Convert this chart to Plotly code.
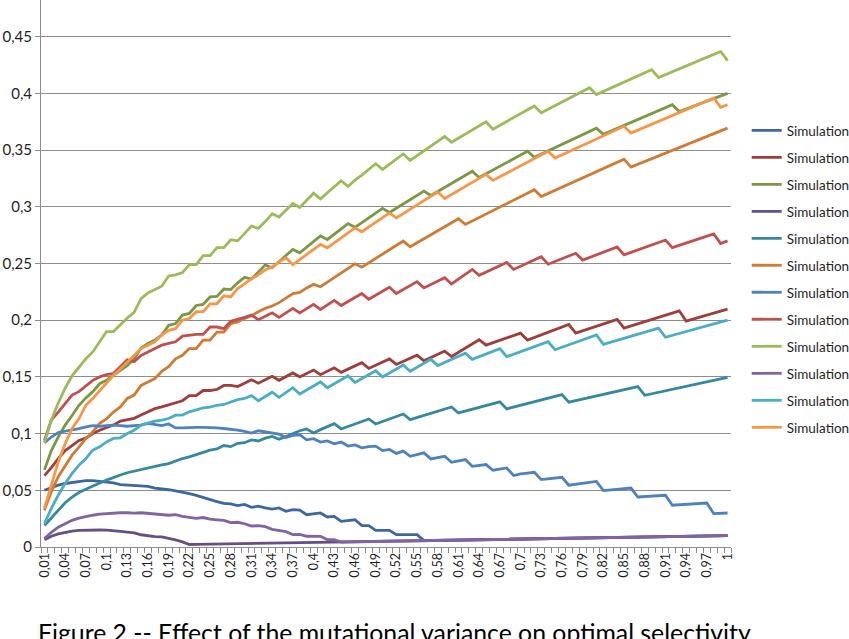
import plotly.graph_objects as go

# x categories (mutational variance)
sigma = [round(0.01 * k, 2) for k in range(1, 101)]
tick_vals = sigma[::3]
tick_text = [f"{v:g}".replace(".", ",") for v in tick_vals]

names = ["Simulation %d" % k for k in range(1, 13)]
colors = ["#3C689F", "#9E3E3B", "#7B9846", "#654F85", "#35899F", "#D07B33",
          "#4F81BD", "#C0504D", "#9BBB59", "#8064A2", "#4BACC6", "#F79646"]

s4 = [.0065, .0095, .0115, .013, .014, .0147, .015, .015, .015, .0148,
      .0145, .0138, .0132, .0125, .0108, .0098, .0092, .009, .0078, .0062,
      .0045, .0022, .0023, .0024, .0025, .0026, .0027, .0028, .0029, .0030,
      .0031, .0032, .0033, .0034, .0035, .0036, .0037, .0038, .0039, .0040,
      .0041, .0042, .0043, .0044, .0045, .0046, .0047, .0048, .0049, .0050,
      .0051, .0052, .0053, .0054, .0055, .0056, .0057, .0058, .0059, .0060,
      .0061, .0062, .0063, .0064, .0065, .0066, .0067, .0068, .0069, .0070,
      .0071, .0072, .0073, .0074, .0075, .0076, .0077, .0078, .0079, .0080,
      .0081, .0082, .0083, .0084, .0085, .0086, .0087, .0088, .0089, .0090,
      .0091, .0092, .0093, .0094, .0095, .0096, .0097, .0098, .0099, .0100]

s1 = [.050, .0525, .0545, .056, .057, .058, .0585, .0585, .058, .0575,
      .0565, .055, .0545, .054, .0535, .0535, .052, .0515, .0505, .0495,
      .0485, .047, .0455, .0435, .042, .040, .0385, .038, .0365, .0375,
      .035, .036, .0345, .0335, .0345, .0315, .033, .0325, .0285, .0295,
      .030, .0265, .027, .0226, .0235, .024, .0188, .0188, .0147, .0147,
      .0147, .0109, .0109, .0109, .0109, .0056, .0057, .0058, .0059, .0060,
      .0061, .0062, .0063, .0064, .0065, .0066, .0067, .0068, .0069, .0070,
      .0071, .0072, .0073, .0074, .0075, .0076, .0077, .0078, .0079, .0080,
      .0081, .0082, .0083, .0084, .0085, .0086, .0087, .0088, .0089, .0090,
      .0091, .0092, .0093, .0094, .0095, .0096, .0097, .0098, .0099, .0100]

s2 = [.063, .070, .078, .085, .0895, .094, .096, .100, .103, .105,
      .1075, .111, .112, .1135, .1165, .119, .122, .1235, .1255, .1275,
      .129, .1335, .1335, .138, .138, .139, .1425, .1425, .1415, .1445,
      .1475, .1445, .1475, .1505, .147, .1505, .1535, .150, .153, .156,
      .152, .155, .158, .154, .1568, .1596, .1625, .1575, .1602, .163,
      .1658, .161, .1637, .1664, .1692, .1642, .167, .1699, .1728, .168,
      .1717, .1754, .1791, .1828, .178, .1801, .1823, .1844, .1865, .1886,
      .1825, .1848, .1871, .1893, .1916, .1939, .1962, .1886, .1906, .1926,
      .1947, .1967, .1987, .2007, .1931, .195, .1969, .1988, .2007, .2026,
      .2045, .2064, .2083, .1992, .201, .2027, .2045, .2063, .208, .2098]

s3 = [.068, .085, .097, .1075, .116, .125, .1315, .137, .144, .147,
      .1515, .156, .160, .166, .1755, .1795, .1825, .187, .1955, .197,
      .2045, .206, .213, .214, .2205, .221, .2275, .227, .233, .2378,
      .2363, .2425, .2488, .2463, .2517, .257, .2624, .2594, .2644, .2693,
      .2743, .2712, .2759, .2805, .2852, .2819, .2861, .2902, .2944, .2986,
      .295, .2988, .3025, .3063, .310, .3138, .310, .3136, .3171, .3207,
      .3243, .3278, .3314, .3259, .3292, .3325, .3358, .3391, .3424, .3457,
      .349, .3436, .3465, .3493, .3522, .3551, .3579, .3608, .3637, .3665,
      .3694, .364, .3666, .3692, .3718, .3744, .377, .3796, .3822, .3848,
      .3874, .390, .384, .3863, .3886, .3909, .3931, .3954, .3977, .400]

s5 = [.019, .026, .033, .039, .044, .048, .051, .054, .0565, .059,
      .0615, .0635, .0655, .067, .0685, .070, .0715, .0725, .0735, .076,
      .078, .0795, .0815, .0835, .0855, .0865, .0895, .0885, .0915, .092,
      .0945, .0935, .096, .0975, .095, .0975, .100, .1025, .1041, .1006,
      .1035, .1062, .1088, .1041, .1063, .1085, .1107, .1129, .1085, .1107,
      .1129, .1151, .1173, .1123, .1142, .116, .1179, .1197, .1216, .1235,
      .1182, .1199, .1215, .1231, .1248, .1264, .128, .1218, .1234, .125,
      .1266, .1281, .1297, .1313, .1328, .1344, .1277, .1291, .1304, .1318,
      .1332, .1346, .1359, .1373, .1387, .14, .1414, .1338, .1351, .1364,
      .1378, .1391, .1404, .1417, .143, .1443, .1457, .147, .1483, .1496]

s6 = [.0325, .049, .062, .072, .081, .088, .0955, .1015, .109, .113,
      .119, .1235, .131, .134, .1425, .1455, .1485, .155, .159, .166,
      .169, .175, .175, .1825, .1825, .1895, .1895, .197, .1985, .2015,
      .204, .2075, .2105, .2125, .2155, .2195, .2235, .2245, .2285, .2316,
      .2295, .2336, .2376, .2417, .2457, .2498, .2468, .2506, .2545, .2583,
      .2621, .266, .2698, .2648, .2683, .2718, .2754, .2789, .2824, .286,
      .2895, .2845, .2876, .2906, .2937, .2967, .2998, .3028, .3059, .3089,
      .312, .315, .309, .3118, .3145, .3173, .32, .3228, .3255, .3283,
      .331, .3338, .3365, .3393, .342, .335, .3375, .3399, .3424, .3448,
      .3473, .3497, .3522, .3547, .3571, .3596, .362, .3645, .3669, .3694]

s7 = [.092, .097, .101, .102, .103, .1045, .106, .107, .1065, .107,
      .1075, .107, .1065, .107, .1075, .109, .108, .107, .1085, .105,
      .105, .1055, .1055, .1055, .1055, .105, .1045, .104, .103, .102,
      .1005, .1025, .1015, .100, .0995, .0965, .0985, .099, .0945, .0955,
      .0925, .0935, .091, .0925, .089, .090, .0875, .0885, .089, .085,
      .086, .0825, .0845, .080, .0815, .083, .0777, .079, .080, .0747,
      .076, .0771, .0712, .072, .0727, .0677, .0687, .0697, .063, .0645,
      .0652, .0659, .0594, .0601, .0608, .0615, .0545, .0553, .0562, .057,
      .0578, .0497, .0503, .0509, .0515, .052, .0441, .0445, .0449, .0452,
      .0456, .0368, .0372, .0376, .038, .0384, .0388, .0294, .0297, .030]

s8 = [.094, .112, .119, .1265, .134, .137, .142, .147, .150, .152,
      .153, .159, .165, .1635, .169, .172, .175, .178, .1795, .181,
      .186, .187, .1875, .1875, .194, .194, .1925, .199, .2005, .2025,
      .2045, .2005, .2035, .2065, .2025, .2065, .2105, .2065, .2105, .214,
      .2095, .2135, .2175, .213, .2165, .220, .2235, .2185, .222, .2255,
      .229, .2235, .227, .2305, .234, .2285, .2315, .2345, .2375, .232,
      .2362, .2405, .2448, .2396, .2424, .2452, .248, .2509, .2448, .2476,
      .2504, .2532, .256, .2494, .2518, .2542, .2566, .259, .253, .2553,
      .2576, .26, .2623, .2646, .2576, .2598, .262, .2641, .2663, .2685,
      .2707, .264, .266, .268, .2701, .2721, .2741, .2761, .2676, .270]

s9 = [.092, .112, .127, .140, .151, .159, .166, .172, .181, .190,
      .190, .196, .202, .207, .219, .224, .227, .230, .239, .240,
      .242, .249, .249, .257, .257, .264, .264, .271, .270, .277,
      .283, .281, .287, .294, .291, .297, .303, .2995, .306, .312,
      .307, .3125, .318, .323, .318, .3235, .328, .333, .338, .333,
      .3375, .342, .3466, .341, .3452, .3494, .3536, .3578, .362, .357,
      .3606, .3642, .3678, .3714, .375, .3685, .3719, .3753, .3787, .3822,
      .3856, .389, .383, .3861, .3893, .3924, .3956, .3987, .4019, .405,
      .399, .4018, .4045, .4073, .41, .4128, .4155, .4183, .421, .414,
      .4166, .4191, .4217, .4242, .4268, .4293, .4319, .4344, .437, .429]

s10 = [.0075, .013, .0175, .0205, .0235, .0255, .027, .028, .029, .0295,
       .030, .0302, .0302, .0298, .0302, .0297, .0293, .0287, .028, .0285,
       .027, .0262, .0252, .026, .0245, .024, .0235, .0215, .0218, .0205,
       .0185, .0188, .018, .0155, .0148, .0135, .011, .0112, .0095, .0095,
       .0094, .0065, .0065, .0044, .0045, .0046, .0047, .0048, .0049, .0050,
       .0051, .0052, .0053, .0054, .0055, .0056, .0057, .0058, .0059, .0060,
       .0061, .0062, .0063, .0064, .0065, .0066, .0067, .0068, .0069, .0070,
       .0071, .0072, .0073, .0074, .0075, .0076, .0077, .0078, .0079, .0080,
       .0081, .0082, .0083, .0084, .0085, .0086, .0087, .0088, .0089, .0090,
       .0091, .0092, .0093, .0094, .0095, .0096, .0097, .0098, .0099, .0100]

s11 = [.0207, .034, .0457, .056, .0648, .0722, .078, .0854, .0883, .0927,
       .0957, .0963, .1001, .103, .1075, .1095, .111, .1119, .1133, .1163,
       .1163, .1192, .1207, .1227, .1233, .125, .1257, .128, .130, .131,
       .1335, .129, .1325, .1365, .132, .136, .1405, .135, .1385, .142,
       .1455, .1405, .144, .1475, .151, .145, .1485, .152, .1555, .150,
       .1535, .157, .1605, .155, .1585, .162, .1655, .160, .1628, .1655,
       .1683, .171, .1655, .168, .1703, .1726, .1749, .1679, .1701, .1723,
       .1745, .1766, .1788, .181, .174, .1762, .1783, .1805, .1827, .1848,
       .187, .1788, .1806, .1824, .1842, .186, .1877, .1895, .1913, .1931,
       .185, .1867, .1883, .19, .1917, .1933, .195, .1967, .1983, .200]

s12 = [.034, .0545, .075, .091, .1045, .113, .125, .131, .138, .1455,
       .1515, .157, .163, .169, .175, .178, .181, .187, .191, .1925,
       .200, .2015, .2075, .2075, .2145, .2145, .2215, .2205, .228, .232,
       .2365, .240, .2445, .247, .2515, .255, .249, .2535, .258, .2624,
       .2668, .2639, .2683, .2727, .2771, .2815, .278, .2822, .2864, .2905,
       .2947, .2903, .2941, .2979, .3017, .3054, .3092, .313, .3074, .3109,
       .3145, .318, .3215, .3251, .3286, .3233, .3265, .3297, .333, .3362,
       .3394, .3426, .3458, .349, .343, .3458, .3486, .3514, .3542, .357,
       .3598, .3626, .3654, .3682, .371, .365, .3676, .3702, .3728, .3753,
       .3779, .3805, .3831, .3857, .3882, .3908, .3934, .396, .3877, .390]

series = [s1, s2, s3, s4, s5, s6, s7, s8, s9, s10, s11, s12]

FONT = "Lato"
GRID = "#8C8C8C"

fig = go.Figure()
for name, col, ys in zip(names, colors, series):
    fig.add_trace(go.Scatter(x=sigma, y=ys, mode="lines", name=name,
                             legendgroup=name,
                             line=dict(color=col, width=2.8)))

W, H = 849, 639
L, R, T, B = 41, 118, 0, 92
pw, ph = W - L - R, H - T - B

fig.update_layout(
    width=W, height=H,
    margin=dict(l=L, r=R, t=T, b=B, autoexpand=False),
    paper_bgcolor="white", plot_bgcolor="white",
    separators=", ",
    font=dict(family=FONT, color="#1f1f1f"),
    showlegend=True,
    legend=dict(x=(746.7 - L) / pw, xanchor="left",
                y=1 - 115 / ph, yanchor="top",
                traceorder="grouped", tracegroupgap=6.45,
                font=dict(family=FONT, size=13.5, color="#1f1f1f"),
                bgcolor="rgba(0,0,0,0)", borderwidth=0),
    xaxis=dict(range=[0.005, 1.005], tickmode="array",
               tickvals=tick_vals, ticktext=tick_text, tickangle=-90,
               ticks="", showgrid=False, zeroline=False,
               showline=True, linecolor=GRID, linewidth=1,
               tickfont=dict(family=FONT, size=12.5, color="#1f1f1f"),
               minor=dict(ticks="outside", tickmode="linear", tick0=0.005,
                          dtick=0.01, ticklen=5, tickcolor=GRID,
                          tickwidth=1, showgrid=False)),
    yaxis=dict(range=[0, 0.4824], tickmode="linear", tick0=0, dtick=0.05,
               ticks="outside", ticklen=5, tickcolor=GRID,
               showgrid=True, gridcolor=GRID, gridwidth=1, zeroline=False,
               showline=True, linecolor=GRID, linewidth=1,
               tickfont=dict(family=FONT, size=15, color="#1f1f1f")),
    annotations=[dict(text="Figure 2 -- Effect of the mutational variance on optimal selectivity",
                      xref="paper", yref="paper",
                      x=(36 - L) / pw, xanchor="left",
                      y=(ph - 616) / ph, yanchor="top",
                      showarrow=False,
                      font=dict(family=FONT, size=24.8, color="#000000"))],
)

fig.write_html("out.html")
